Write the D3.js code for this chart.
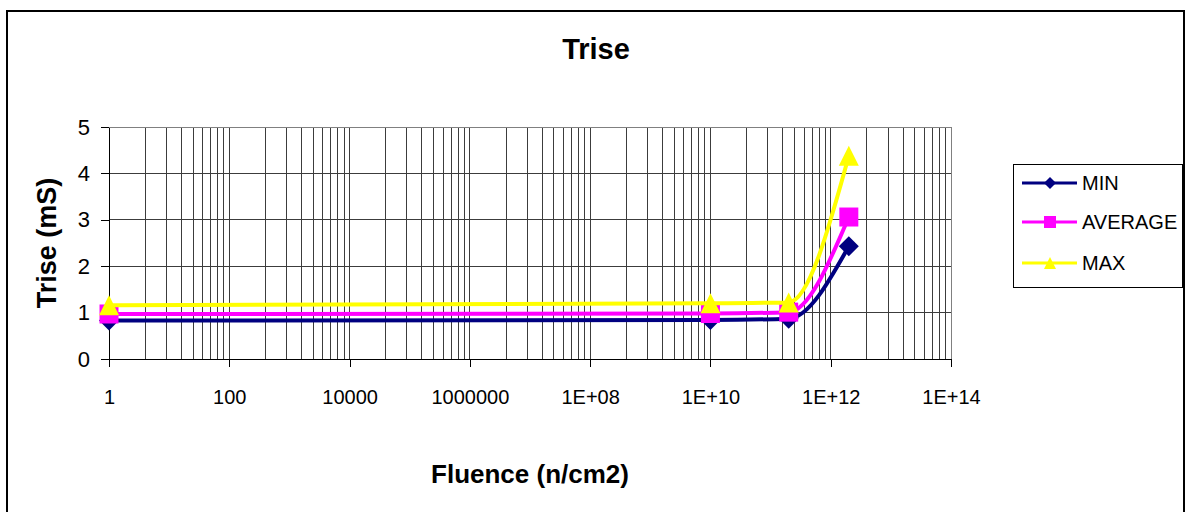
<!DOCTYPE html>
<html>

<head>
    <title>Trise</title>
    <script src="https://d3js.org/d3.v7.min.js"></script>
    <style>
        body { margin: 0; background: white; }
        text { font-family: Arial, "Liberation Sans", sans-serif; fill: black; }
    </style>
</head>

<body>
    <div id="chartContainer"></div>
    <script>
        // DATA

        var fluence = [1, 1e10, 2e11, 2e12]
        var minValues = [0.83, 0.84, 0.87, 2.43]
        var averageValues = [0.97, 0.98, 1.01, 3.06]
        var maxValues = [1.16, 1.20, 1.22, 4.38]
        var seriesNames = ['MIN', 'AVERAGE', 'MAX']
        var xTickValues = [1, 1e2, 1e4, 1e6, 1e8, 1e10, 1e12, 1e14]
        var xTickLabels = ['1', '100', '10000', '1000000', '1E+08', '1E+10', '1E+12', '1E+14']
        var yTickValues = [0, 1, 2, 3, 4, 5]

        // GENERAL SETUP

        var width = 1188
        var height = 512
        var plotLeft = 109, plotRight = 951, plotTop = 127, plotBottom = 359

        var svg = d3.select('#chartContainer').append('svg')
            .attr('width', width)
            .attr('height', height)

        svg.append('rect')
            .attr('x', 7).attr('y', 11)
            .attr('width', 1177).attr('height', 530)
            .style('fill', 'white')
            .style('stroke', 'black')
            .style('stroke-width', 2)

        var x = d3.scaleLog().domain([1, 1e14]).range([plotLeft, plotRight])
        var y = d3.scaleLinear().domain([0, 5]).range([plotBottom, plotTop])

        // GRIDLINES

        var grid = svg.append('g').attr('shape-rendering', 'crispEdges')

        // minor lines: base 100 axis, so minors sit at k^2 inside each major step
        var minorValues = []
        for (let i = 0; i < 7; i++) {
            for (let k = 2; k <= 9; k++) {
                minorValues.push(Math.pow(100, i) * k * k)
            }
        }
        grid.selectAll('line.minor')
            .data(minorValues.concat(xTickValues.slice(1, -1)))
            .enter().append('line')
            .attr('class', 'minor')
            .attr('x1', d => x(d)).attr('x2', d => x(d))
            .attr('y1', plotTop).attr('y2', plotBottom)
            .style('stroke', '#3c3c3c')

        grid.selectAll('line.hgrid')
            .data([1, 2, 3, 4])
            .enter().append('line')
            .attr('class', 'hgrid')
            .attr('x1', plotLeft).attr('x2', plotRight)
            .attr('y1', d => y(d)).attr('y2', d => y(d))
            .style('stroke', '#3c3c3c')

        // plot area border (top and right)
        grid.append('path')
            .attr('d', 'M' + plotLeft + ',' + plotTop + 'H' + plotRight + 'V' + plotBottom)
            .style('fill', 'none')
            .style('stroke', '#808080')

        // AXES

        var xAxis = svg.append('g')
            .attr('transform', 'translate(0,' + plotBottom + ')')
            .call(d3.axisBottom(x)
                .tickValues(xTickValues)
                .tickFormat((d, i) => xTickLabels[i])
                .tickSize(8)
                .tickPadding(23)
                .tickSizeOuter(0))
        xAxis.selectAll('text').style('font-size', '20px').style('font-family', 'Arial, "Liberation Sans", sans-serif')

        var yAxis = svg.append('g')
            .attr('transform', 'translate(' + plotLeft + ',0)')
            .call(d3.axisLeft(y)
                .tickValues(yTickValues)
                .tickFormat(d3.format('d'))
                .tickSize(8)
                .tickPadding(11)
                .tickSizeOuter(0))
        yAxis.selectAll('text').style('font-size', '22px').style('font-family', 'Arial, "Liberation Sans", sans-serif')
        svg.selectAll('.domain, .tick line').attr('shape-rendering', 'crispEdges').style('stroke', 'black')

        // TITLES

        svg.append('text')
            .attr('x', 596).attr('y', 59)
            .attr('text-anchor', 'middle')
            .style('font-size', '29px').style('font-weight', 'bold')
            .text('Trise')

        svg.append('text')
            .attr('x', 530).attr('y', 483)
            .attr('text-anchor', 'middle')
            .style('font-size', '26px').style('font-weight', 'bold')
            .text('Fluence (n/cm2)')

        svg.append('text')
            .attr('transform', 'translate(56,' + ((plotTop + plotBottom) / 2) + ') rotate(-90)')
            .attr('text-anchor', 'middle')
            .style('font-size', '27px').style('font-weight', 'bold')
            .text('Trise (mS)')

        // MARKERS

        var diamondType = {
            draw: function (ctx, size) {
                var r = Math.sqrt(size) / 2
                ctx.moveTo(0, -r); ctx.lineTo(r, 0); ctx.lineTo(0, r); ctx.lineTo(-r, 0); ctx.closePath()
            }
        }
        var squareType = {
            draw: function (ctx, size) {
                var r = Math.sqrt(size) / 2
                ctx.rect(-r, -r, 2 * r, 2 * r)
            }
        }
        var triangleType = {
            draw: function (ctx, size) {
                var r = Math.sqrt(size) / 2
                ctx.moveTo(0, -r); ctx.lineTo(r, r); ctx.lineTo(-r, r); ctx.closePath()
            }
        }

        var series = [
            { name: seriesNames[0], values: minValues, color: '#000080', marker: diamondType, markerSize: 20 },
            { name: seriesNames[1], values: averageValues, color: '#ff00ff', marker: squareType, markerSize: 19 },
            { name: seriesNames[2], values: maxValues, color: '#ffff00', marker: triangleType, markerSize: 20 }
        ]

        // SERIES LINES AND POINTS

        var line = d3.line()
            .x(d => x(d[0]))
            .y(d => y(d[1]))
            .curve(d3.curveMonotoneX)

        series.forEach(function (s) {
            var points = fluence.map((f, i) => [f, s.values[i]])
            svg.append('path')
                .datum(points)
                .attr('d', line)
                .style('fill', 'none')
                .style('stroke', s.color)
                .style('stroke-width', 4)
            svg.selectAll(null)
                .data(points)
                .enter().append('path')
                .attr('transform', d => 'translate(' + x(d[0]) + ',' + y(d[1]) + ')')
                .attr('d', d3.symbol(s.marker, s.markerSize * s.markerSize))
                .style('fill', s.color)
        })

        // LEGEND

        var legend = svg.append('g')
        legend.append('rect')
            .attr('x', 1013.5).attr('y', 164.5)
            .attr('width', 169).attr('height', 123)
            .style('fill', 'white')
            .style('stroke', 'black')
        var legendY = [183, 222, 263]
        series.forEach(function (s, i) {
            legend.append('line')
                .attr('x1', 1022).attr('x2', 1077)
                .attr('y1', legendY[i]).attr('y2', legendY[i])
                .style('stroke', s.color)
                .style('stroke-width', 3)
            legend.append('path')
                .attr('transform', 'translate(1050,' + legendY[i] + ')')
                .attr('d', d3.symbol(s.marker, 144))
                .style('fill', s.color)
            legend.append('text')
                .attr('x', 1082).attr('y', legendY[i] + 7)
                .style('font-size', '20px')
                .text(s.name)
        })
    </script>
</body>

</html>
